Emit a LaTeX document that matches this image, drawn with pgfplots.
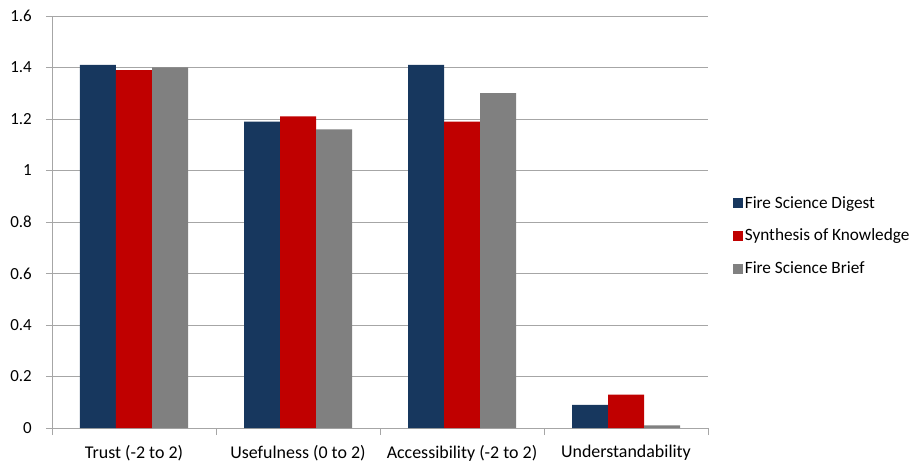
\documentclass[border=0pt]{standalone}
\usepackage{pgfplots}
\pgfplotsset{compat=1.18}
\usepackage{fontspec}
\setmainfont{Carlito}
\definecolor{fsdigest}{HTML}{17375E}
\definecolor{synth}{HTML}{C00000}
\definecolor{fsbrief}{HTML}{808080}
\definecolor{axgray}{HTML}{A6A6A6}
\begin{document}
\fontsize{18}{21}\selectfont
\begin{tikzpicture}
\useasboundingbox (-52bp,-34bp) rectangle (865bp,428bp);
\begin{axis}[
    at={(0,0)}, anchor=south west,
    scale only axis,
    width=656bp, height=412bp,
    ybar=0pt, bar width=36bp,
    ymin=0, ymax=1.6,
    ytick={0,0.2,...,1.6},
    xmin=-0.5, xmax=3.5,
    xtick={0,1,2,3},
    xticklabels={Trust (-2 to 2),Usefulness (0 to 2),Accessibility (-2 to 2),Understandability},
    minor xtick={-0.5,0.5,1.5,2.5,3.5},
    major x tick style={draw=none},
    minor x tick style={axgray, thick},
    minor tick length=7bp,
    y tick style={axgray, thick},
    major tick length=6bp,
    tick align=outside,
    axis x line*=bottom, axis y line*=left,
    axis line style={axgray, thick, -},
    ymajorgrids, major grid style={axgray, thick},
    /pgf/number format/assume math mode=true,
    yticklabel style={/pgf/number format/fixed, font=\fontsize{17}{20}\selectfont, xshift=-8bp},
    xticklabel style={yshift=-5bp},
    legend style={draw=none, at={(1.033,0.466)}, anchor=west,
      font=\fontsize{17.3}{20}\selectfont,
      legend cell align=left, row sep=14bp,
      /tikz/every odd column/.append style={column sep=0bp}},
    legend image code/.code={\fill[#1] (0bp,-5bp) rectangle (10bp,5bp);},
]
\addplot[draw=none, fill=fsdigest] coordinates {(0,1.41) (1,1.19) (2,1.41) (3,0.09)};
\addplot[draw=none, fill=synth] coordinates {(0,1.39) (1,1.21) (2,1.19) (3,0.13)};
\addplot[draw=none, fill=fsbrief] coordinates {(0,1.40) (1,1.16) (2,1.30) (3,0.01)};
\legend{Fire Science Digest,Synthesis of Knowledge,Fire Science Brief}
\end{axis}
\end{tikzpicture}
\end{document}
